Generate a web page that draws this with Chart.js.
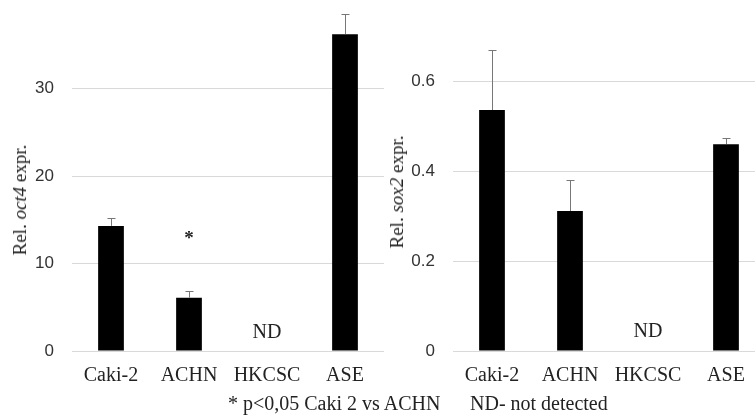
<!DOCTYPE html>
<html>
<head>
<meta charset="utf-8">
<script src="https://cdn.jsdelivr.net/npm/chart.js@4"></script>
<style>
    html, body { margin: 0; padding: 0; background: #fff; overflow: hidden; }
    body { width: 755px; height: 415px; position: relative; }
    canvas { position: absolute; top: 0; }
    .ytitle {
        position: absolute;
        transform: translate(-50%, -50%) rotate(-90deg);
        white-space: nowrap;
        font-family: 'Liberation Serif', serif;
        font-size: 19px;
        color: #222;
    }
    .note {
        position: absolute;
        top: 393px;
        white-space: nowrap;
        font-family: 'Liberation Serif', serif;
        font-size: 20px;
        line-height: 20px;
        color: #222;
    }
</style>
</head>
<body>
<canvas id="oct4Chart" width="384" height="415" style="left:0"></canvas>
<canvas id="sox2Chart" width="381" height="415" style="left:384px"></canvas>

<div class="ytitle" style="left:20px; top:200px">Rel. <i>oct4</i> expr.</div>
<div class="ytitle" style="left:397px; top:192px">Rel. <i>sox2</i> expr.</div>
<div class="note" style="left:228px">* p&lt;0,05 Caki 2 vs ACHN</div>
<div class="note" style="left:470px">ND- not detected</div>

<script>
// data
const categories = ['Caki-2', 'ACHN', 'HKCSC', 'ASE'];
const oct4Values = [14.3, 6.1, null, 36.2];
const oct4Errors = [0.9, 0.8, null, 2.3];
const sox2Values = [0.537, 0.312, null, 0.461];
const sox2Errors = [0.133, 0.068, null, 0.013];
const oct4Ticks = [0, 10, 20, 30];
const sox2Ticks = [0, 0.2, 0.4, 0.6];
// text marks: [category index, value, label]
const oct4Notes = [[1, 12.8, '*'], [2, 2.1, 'ND']];
const sox2Notes = [[2, 0.043, 'ND']];

// upward-only error bars with a small cap
const errorBarsPlugin = {
    id: 'errorBars',
    afterDatasetsDraw(chart, args, opts) {
        const { ctx, scales: { x, y } } = chart;
        const values = chart.data.datasets[0].data;
        ctx.save();
        ctx.strokeStyle = '#777';
        ctx.lineWidth = 1;
        values.forEach((v, i) => {
            if (v == null || opts.errors[i] == null) return;
            const px = Math.round(x.getPixelForValue(i)) + 0.5;
            const y0 = y.getPixelForValue(v);
            const y1 = Math.round(y.getPixelForValue(v + opts.errors[i])) + 0.5;
            ctx.beginPath();
            ctx.moveTo(px, y0);
            ctx.lineTo(px, y1);
            ctx.moveTo(px - 4, y1);
            ctx.lineTo(px + 4, y1);
            ctx.stroke();
        });
        ctx.restore();
    }
};

// "*" and "ND" labels placed on the scales
const notesPlugin = {
    id: 'notes',
    afterDatasetsDraw(chart, args, opts) {
        const { ctx, scales: { x, y } } = chart;
        ctx.save();
        ctx.fillStyle = '#222';
        ctx.textAlign = 'center';
        ctx.textBaseline = 'middle';
        opts.items.forEach(([i, v, label]) => {
            ctx.font = label === '*' ? "bold 19px 'Liberation Serif'" : "20px 'Liberation Serif'";
            ctx.fillText(label, x.getPixelForValue(i), y.getPixelForValue(v));
        });
        ctx.restore();
    }
};

function makeChart(id, values, errors, ticks, notes, max, axisWidth, tickPad) {
    return new Chart(document.getElementById(id), {
        type: 'bar',
        data: {
            labels: categories,
            datasets: [{
                data: values,
                backgroundColor: '#000',
                barPercentage: 0.33,
                categoryPercentage: 1
            }]
        },
        plugins: [errorBarsPlugin, notesPlugin],
        options: {
            responsive: false,
            animation: false,
            layout: { padding: { top: 1, left: 0, right: 0, bottom: 0 } },
            plugins: {
                legend: { display: false },
                tooltip: { enabled: false },
                errorBars: { errors: errors },
                notes: { items: notes }
            },
            scales: {
                x: {
                    grid: { display: false },
                    border: { display: false },
                    ticks: {
                        color: '#222',
                        padding: 5,
                        font: { family: "'Liberation Serif', serif", size: 20 }
                    },
                    afterFit(scale) {
                        scale.height = 64;
                        scale.paddingLeft = 0;
                        scale.paddingRight = 0;
                    }
                },
                y: {
                    min: 0,
                    max: max,
                    border: { display: false },
                    grid: { color: '#d9d9d9', drawTicks: false, lineWidth: 1 },
                    afterBuildTicks(scale) {
                        scale.ticks = ticks.map(v => ({ value: v }));
                    },
                    ticks: {
                        color: '#333',
                        padding: tickPad,
                        font: { family: "'Liberation Sans', sans-serif", size: 17 },
                        callback: v => String(v)
                    },
                    afterFit(scale) {
                        scale.width = axisWidth;
                        scale.paddingTop = 0;
                        scale.paddingBottom = 0;
                    }
                }
            }
        }
    });
}

makeChart('oct4Chart', oct4Values, oct4Errors, oct4Ticks, oct4Notes, 40, 72, 18);
makeChart('sox2Chart', sox2Values, sox2Errors, sox2Ticks, sox2Notes, 0.78, 69, 18);
</script>
</body>
</html>
